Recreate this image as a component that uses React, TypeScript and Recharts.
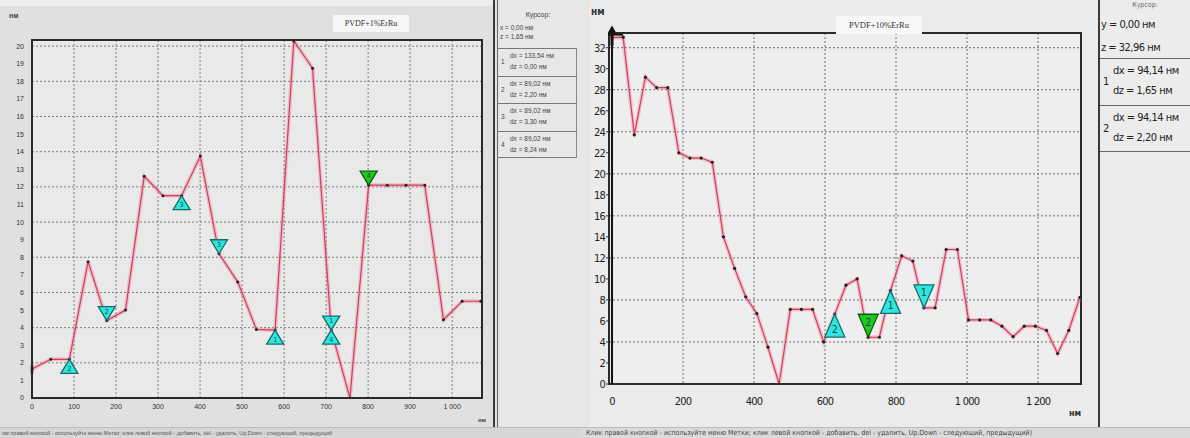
import React from 'react';
import {
  LineChart,
  Line,
  XAxis,
  YAxis,
  CartesianGrid,
  ReferenceArea,
  ReferenceDot,
  ReferenceLine,
} from 'recharts';

// ---------- Left profile (PVDF+1%ErRu) ----------
const leftX = [
  0, 44.51, 89.02, 133.54, 178.05, 222.56, 267.07, 311.58, 356.1, 400.61, 445.12, 489.63, 534.14,
  578.66, 623.17, 667.68, 712.19, 756.7, 801.22, 845.73, 890.24, 934.75, 979.26, 1023.78, 1068.29,
];
const leftZ = [
  1.65, 2.2, 2.2, 7.75, 4.4, 5.0, 12.6, 11.5, 11.5, 13.75, 8.2, 6.6, 3.9, 3.86, 20.3, 18.75, 3.86,
  0, 12.1, 12.1, 12.1, 12.1, 4.45, 5.5, 5.5,
];
const leftTicksX = [0, 100, 200, 300, 400, 500, 600, 700, 800, 900, 1000];
const leftTicksY = [0, 1, 2, 3, 4, 5, 6, 7, 8, 9, 10, 11, 12, 13, 14, 15, 16, 17, 18, 19, 20];
const leftDomainX = [0, 1071];
const leftDomainY = [0, 20.35];
const leftMarkers = [
  { i: 2, dir: 'up', label: '2', green: false },
  { i: 4, dir: 'down', label: '2', green: false },
  { i: 8, dir: 'up', label: '3', green: false },
  { i: 10, dir: 'down', label: '3', green: false },
  { i: 13, dir: 'up', label: '1', green: false },
  { i: 16, dir: 'down', label: '1', green: false },
  { i: 16, dir: 'up', label: '4', green: false },
  { i: 18, dir: 'down', label: '4', green: true },
];
const leftCursor = { i: 0 };

// ---------- Right profile (PVDF+10%ErRu) ----------
const rightX = [
  0, 31.38, 62.76, 94.14, 125.52, 156.9, 188.28, 219.66, 251.04, 282.42, 313.8, 345.18, 376.56,
  407.94, 439.32, 470.7, 502.08, 533.46, 564.84, 596.22, 627.6, 658.98, 690.36, 721.74, 753.12,
  784.5, 815.88, 847.26, 878.64, 910.02, 941.4, 972.78, 1004.16, 1035.54, 1066.92, 1098.3,
  1129.68, 1161.06, 1192.44, 1223.82, 1255.2, 1286.58, 1317.96,
];
const rightZ = [
  32.96, 33.0, 23.7, 29.2, 28.2, 28.2, 22.0, 21.5, 21.5, 21.1, 14.0, 11.0, 8.3, 6.7, 3.5, 0, 7.1,
  7.1, 7.1, 4.0, 6.65, 9.4, 10.0, 4.45, 4.45, 8.9, 12.2, 11.7, 7.25, 7.25, 12.8, 12.8, 6.1, 6.1,
  6.1, 5.5, 4.5, 5.5, 5.5, 5.1, 2.9, 5.1, 8.25,
];
const rightTicksX = [0, 200, 400, 600, 800, 1000, 1200];
const rightTicksY = [0, 2, 4, 6, 8, 10, 12, 14, 16, 18, 20, 22, 24, 26, 28, 30, 32];
const rightDomainX = [-8.5, 1321];
const rightDomainY = [0, 33.4];
const rightMarkers = [
  { i: 20, dir: 'up', label: '2', green: false },
  { i: 23, dir: 'down', label: '2', green: true },
  { i: 25, dir: 'up', label: '1', green: false },
  { i: 28, dir: 'down', label: '1', green: false },
];
const rightCursor = { i: 0 };

// ---------- Text panels ----------
const leftCursorRows = [
  { n: '1', dx: 'dx = 133,54 нм', dz: 'dz = 0,00 нм' },
  { n: '2', dx: 'dx = 89,02 нм', dz: 'dz = 2,20 нм' },
  { n: '3', dx: 'dx = 89,02 нм', dz: 'dz = 3,30 нм' },
  { n: '4', dx: 'dx = 89,02 нм', dz: 'dz = 8,24 нм' },
];
const rightCursorRows = [
  { n: '1', dx: 'dx = 94,14 нм', dz: 'dz = 1,65 нм' },
  { n: '2', dx: 'dx = 94,14 нм', dz: 'dz = 2,20 нм' },
];

const leftData = leftX.map((x, k) => ({ x, z: leftZ[k] }));
const rightData = rightX.map((x, k) => ({ x, z: rightZ[k] }));

const fmtThousands = (v: number) => (v >= 1000 ? `${Math.floor(v / 1000)} ${String(v % 1000).padStart(3, '0')}` : String(v));

const NARROW = '"Liberation Sans Narrow", "DejaVu Sans Condensed", "Arial Narrow", "Liberation Sans", sans-serif';

const Tri = (props: any) => {
  const { cx, cy, dir, w, h, green, label, fs } = props;
  if (cx == null || cy == null) return null;
  const pts =
    dir === 'up'
      ? `${cx},${cy} ${cx - w / 2},${cy + h} ${cx + w / 2},${cy + h}`
      : `${cx},${cy} ${cx - w / 2},${cy - h} ${cx + w / 2},${cy - h}`;
  const ty = dir === 'up' ? cy + h * 0.68 : cy - h * 0.64;
  return (
    <g>
      <polygon
        points={pts}
        fill={green ? '#1fc81f' : '#2ee6dc'}
        stroke={green ? '#0d5a0d' : '#146e6e'}
        strokeWidth={1.3}
      />
      <text
        x={cx}
        y={ty}
        textAnchor="middle"
        dominantBaseline="middle"
        fontSize={fs}
        fontFamily={NARROW}
        fill="#134848"
      >
        {label}
      </text>
    </g>
  );
};

const CursorMark = (props: any) => {
  const { cx, cy, big } = props;
  if (cx == null || cy == null) return null;
  if (!big) {
    return <line x1={cx} y1={cy - 4} x2={cx} y2={cy + 5} stroke="#222" strokeWidth={2.5} />;
  }
  return (
    <g>
      <line x1={cx} y1={cy - 8} x2={cx} y2={cy + 8} stroke="#111" strokeWidth={3} />
      <line x1={cx - 4} y1={cy - 3} x2={cx + 11} y2={cy - 3} stroke="#111" strokeWidth={2} />
      <polygon points={`${cx},${cy - 12} ${cx - 4},${cy - 5} ${cx + 4},${cy - 5}`} fill="#111" />
    </g>
  );
};

const abs = (s: React.CSSProperties): React.CSSProperties => ({ position: 'absolute', ...s });

export default function App() {
  return (
    <div
      style={{
        position: 'fixed',
        left: 0,
        top: 0,
        width: 1190,
        height: 438,
        overflow: 'hidden',
        background: '#e2e2e2',
        fontFamily: '"Liberation Sans", Arial, sans-serif',
        color: '#222',
      }}
    >
      {/* panel backgrounds */}
      <div style={abs({ left: 0, top: 0, width: 494, height: 427, background: '#e0e0e0' })} />
      <div style={abs({ left: 0, top: 0, width: 494, height: 6, background: '#ececec' })} />
      <div style={abs({ left: 499, top: 0, width: 90, height: 427, background: '#e7e7e7' })} />
      <div style={abs({ left: 589, top: 0, width: 510, height: 427, background: '#ebebeb' })} />
      <div style={abs({ left: 1100, top: 0, width: 90, height: 427, background: '#ececec' })} />

      {/* separators */}
      <div style={abs({ left: 493, top: 0, width: 2, height: 427, background: '#3a3a3a' })} />
      <div style={abs({ left: 497, top: 0, width: 1, height: 427, background: '#666' })} />
      <div style={abs({ left: 1098, top: 0, width: 2, height: 427, background: '#3a3a3a' })} />

      {/* ---------- Left chart ---------- */}
      <div style={abs({ left: 0, top: 0 })}>
        <LineChart width={490} height={438} data={leftData} margin={{ top: 40, right: 8, bottom: 10, left: 0 }}>
          <CartesianGrid stroke="#7f7f7f" strokeDasharray="2 2" fill="#e9e9e9" />
          <XAxis
            type="number"
            dataKey="x"
            domain={leftDomainX}
            ticks={leftTicksX}
            allowDataOverflow
            height={30}
            tickFormatter={fmtThousands}
            tick={{ fontSize: 7, fill: '#333' }}
            tickLine={false}
            tickSize={0}
            tickMargin={6}
            axisLine={false}
          />
          <YAxis
            type="number"
            domain={leftDomainY}
            ticks={leftTicksY}
            allowDataOverflow
            width={32}
            tick={{ fontSize: 7, fill: '#333' }}
            tickLine={false}
            tickSize={0}
            tickMargin={8}
            axisLine={false}
          />
          <ReferenceArea
            x1={leftDomainX[0]}
            x2={leftDomainX[1]}
            y1={leftDomainY[0]}
            y2={leftDomainY[1]}
            fill="none"
            stroke="#2a2a2a"
            strokeWidth={2}
            ifOverflow="visible"
          />
          <Line
            type="linear"
            dataKey="z"
            stroke="rgba(238,120,150,0.35)"
            strokeWidth={4}
            dot={false}
            activeDot={false}
            isAnimationActive={false}
          />
          <Line
            type="linear"
            dataKey="z"
            stroke="#d63a5c"
            strokeWidth={1.2}
            dot={{ r: 1.5, fill: '#222', stroke: 'none' }}
            activeDot={false}
            isAnimationActive={false}
          />
          <ReferenceDot
            x={leftX[leftCursor.i]}
            y={leftZ[leftCursor.i]}
            r={3}
            ifOverflow="visible"
            shape={(p: any) => <CursorMark {...p} big={false} />}
          />
          {leftMarkers.map((m, k) => (
            <ReferenceDot
              key={'lm' + k}
              x={leftX[m.i]}
              y={leftZ[m.i]}
              r={3}
              ifOverflow="visible"
              shape={(p: any) => (
                <Tri {...p} dir={m.dir} w={17} h={14} green={m.green} label={m.label} fs={7} />
              )}
            />
          ))}
        </LineChart>
      </div>

      {/* left chart texts */}
      <div style={abs({ left: 9, top: 12, fontSize: 7, fontWeight: 'bold', color: '#444' })}>нм</div>
      <div style={abs({ left: 478, top: 417, fontSize: 6, fontWeight: 'bold', color: '#444' })}>нм</div>
      <div
        style={abs({
          left: 333,
          top: 15,
          width: 76,
          height: 17,
          background: '#f6f6f6',
          fontFamily: '"Liberation Serif", serif',
          fontSize: 8,
          lineHeight: '17px',
          textAlign: 'center',
          color: '#333',
        })}
      >
        PVDF+1%ErRu
      </div>

      {/* ---------- Left cursor panel ---------- */}
      <div style={abs({ left: 499, top: 11, width: 78, textAlign: 'center', fontSize: 7, color: '#444' })}>Курсор:</div>
      <div style={abs({ left: 500, top: 24, fontSize: 6.5, color: '#444' })}>x = 0,00 нм</div>
      <div style={abs({ left: 500, top: 33, fontSize: 6.5, color: '#444' })}>z = 1,65 нм</div>
      {leftCursorRows.map((r, k) => (
        <div
          key={'lc' + k}
          style={abs({
            left: 497,
            top: 48 + k * 27.5,
            width: 80,
            height: 27.5,
            borderTop: '1px solid #777',
            borderRight: '1px solid #888',
            borderBottom: k === leftCursorRows.length - 1 ? '1px solid #777' : 'none',
            boxSizing: 'border-box',
            fontSize: 6.5,
            color: '#444',
          })}
        >
          <div style={abs({ left: 4, top: 9 })}>{r.n}</div>
          <div style={abs({ left: 13, top: 3 })}>{r.dx}</div>
          <div style={abs({ left: 13, top: 14 })}>{r.dz}</div>
        </div>
      ))}

      {/* ---------- Right chart ---------- */}
      <div style={abs({ left: 585, top: 0 })}>
        <LineChart width={513} height={438} data={rightData} margin={{ top: 33, right: 17, bottom: 24, left: 0 }}>
          <CartesianGrid stroke="#737373" strokeDasharray="2 2" fill="#eeeeee" />
          <XAxis
            type="number"
            dataKey="x"
            domain={rightDomainX}
            ticks={rightTicksX}
            allowDataOverflow
            height={30}
            tickFormatter={fmtThousands}
            tick={{ fontSize: 11, fill: '#222', fontFamily: NARROW, letterSpacing: -0.8 }}
            tickLine={false}
            tickSize={0}
            tickMargin={13}
            axisLine={false}
          />
          <YAxis
            type="number"
            domain={rightDomainY}
            ticks={rightTicksY}
            allowDataOverflow
            width={24}
            tick={{ fontSize: 11, fill: '#222', fontFamily: NARROW, letterSpacing: -0.8 }}
            tickLine={{ stroke: '#333' }}
            tickSize={3}
            tickMargin={1}
            axisLine={false}
          />
          <ReferenceArea
            x1={rightDomainX[0]}
            x2={rightDomainX[1]}
            y1={rightDomainY[0]}
            y2={rightDomainY[1]}
            fill="none"
            stroke="#2a2a2a"
            strokeWidth={2}
            ifOverflow="visible"
          />
          <ReferenceLine x={rightX[rightCursor.i]} stroke="#111" strokeWidth={2} ifOverflow="visible" />
          <Line
            type="linear"
            dataKey="z"
            stroke="rgba(238,120,150,0.35)"
            strokeWidth={4}
            dot={false}
            activeDot={false}
            isAnimationActive={false}
          />
          <Line
            type="linear"
            dataKey="z"
            stroke="#d63a5c"
            strokeWidth={1.2}
            dot={{ r: 1.6, fill: '#222', stroke: 'none' }}
            activeDot={false}
            isAnimationActive={false}
          />
          <ReferenceDot
            x={rightX[rightCursor.i]}
            y={rightZ[rightCursor.i]}
            r={3}
            ifOverflow="visible"
            shape={(p: any) => <CursorMark {...p} big={true} />}
          />
          {rightMarkers.map((m, k) => (
            <ReferenceDot
              key={'rm' + k}
              x={rightX[m.i]}
              y={rightZ[m.i]}
              r={3}
              ifOverflow="visible"
              shape={(p: any) => (
                <Tri {...p} dir={m.dir} w={20} h={23} green={m.green} label={m.label} fs={10} />
              )}
            />
          ))}
        </LineChart>
      </div>

      {/* right chart texts */}
      <div style={abs({ left: 591, top: 6, fontSize: 10, fontWeight: 'bold', fontFamily: NARROW, color: '#333' })}>нм</div>
      <div style={abs({ left: 1069, top: 408, fontSize: 9, fontWeight: 'bold', fontFamily: NARROW, color: '#333' })}>нм</div>
      <div
        style={abs({
          left: 836,
          top: 16,
          width: 86,
          height: 18,
          background: '#f7f7f7',
          fontFamily: '"Liberation Serif", serif',
          fontSize: 8.5,
          lineHeight: '18px',
          textAlign: 'center',
          color: '#333',
        })}
      >
        PVDF+10%ErRu
      </div>

      {/* ---------- Right cursor panel ---------- */}
      <div style={abs({ left: 1100, top: 1, width: 90, textAlign: 'center', fontSize: 7, lineHeight: '8px', fontFamily: NARROW, color: '#666' })}>Курсор:</div>
      <div style={abs({ left: 1101, top: 18, fontSize: 11, letterSpacing: -0.5, fontFamily: NARROW, color: '#222' })}>у = 0,00 нм</div>
      <div style={abs({ left: 1101, top: 41, fontSize: 11, letterSpacing: -0.5, fontFamily: NARROW, color: '#222' })}>z = 32,96 нм</div>
      {rightCursorRows.map((r, k) => (
        <div
          key={'rc' + k}
          style={abs({
            left: 1100,
            top: 58 + k * 47,
            width: 90,
            height: 47,
            borderTop: '1px solid #666',
            borderBottom: k === rightCursorRows.length - 1 ? '1px solid #666' : 'none',
            boxSizing: 'border-box',
            fontSize: 11,
            letterSpacing: -0.5,
            fontFamily: NARROW,
            color: '#222',
          })}
        >
          <div style={abs({ left: 3, top: 16 })}>{r.n}</div>
          <div style={abs({ left: 13, top: 5 })}>{r.dx}</div>
          <div style={abs({ left: 13, top: 25 })}>{r.dz}</div>
        </div>
      ))}

      {/* ---------- Status bars ---------- */}
      <div
        style={abs({
          left: 0,
          top: 427,
          width: 580,
          height: 11,
          background: '#d6d6d6',
          borderTop: '1px solid #bbb',
          fontSize: 5.5,
          lineHeight: '11px',
          whiteSpace: 'nowrap',
          color: '#555',
          paddingLeft: 2,
        })}
      >
        ом правой кнопкой - используйте меню Метки; клик левой кнопкой - добавить, del - удалить, Up,Down - следующий, предыдущий
      </div>
      <div
        style={abs({
          left: 580,
          top: 427,
          width: 610,
          height: 11,
          background: '#dadada',
          borderTop: '1px solid #bbb',
          fontSize: 7,
          fontFamily: NARROW,
          lineHeight: '11px',
          whiteSpace: 'nowrap',
          color: '#444',
          paddingLeft: 6,
        })}
      >
        Клик правой кнопкой - используйте меню Метки; клик левой кнопкой - добавить, del - удалить, Up,Down - следующий, предыдущий)
      </div>
    </div>
  );
}
